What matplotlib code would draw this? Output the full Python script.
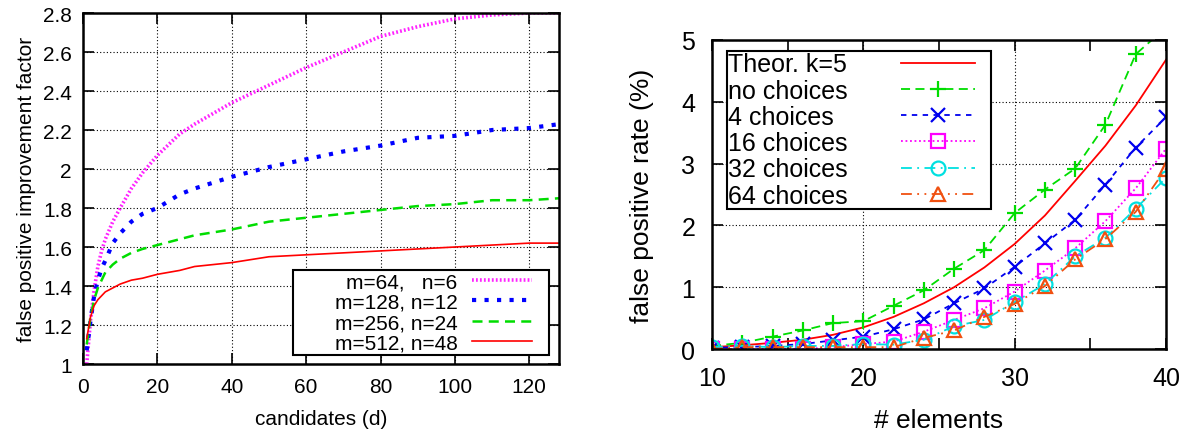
import numpy as np
import matplotlib
matplotlib.use("Agg")
import matplotlib.pyplot as plt
from matplotlib.patches import Rectangle

plt.rcParams['font.family'] = ['Liberation Sans', 'DejaVu Sans']

# left panel: improvement factor vs candidates
d_vals = [1, 2, 3, 4, 5, 6, 8, 10, 13, 16, 20, 26, 30, 40, 50, 60, 70, 80, 90, 100, 110, 120, 128]
m64 = [1.0, 1.22, 1.38, 1.5, 1.58, 1.64, 1.73, 1.8, 1.9, 1.98, 2.07, 2.18, 2.23, 2.34, 2.43, 2.52, 2.6, 2.68, 2.73, 2.77, 2.79, 2.8, 2.8]
m128 = [1.07, 1.22, 1.35, 1.43, 1.49, 1.53, 1.62, 1.67, 1.73, 1.77, 1.80, 1.87, 1.90, 1.96, 2.01, 2.05, 2.09, 2.12, 2.16, 2.17, 2.20, 2.21, 2.23]
m256 = [1.1, 1.24, 1.33, 1.39, 1.43, 1.47, 1.51, 1.54, 1.57, 1.59, 1.61, 1.64, 1.66, 1.69, 1.73, 1.75, 1.77, 1.79, 1.81, 1.82, 1.84, 1.84, 1.85]
m512 = [1.13, 1.24, 1.3, 1.33, 1.35, 1.37, 1.39, 1.41, 1.43, 1.44, 1.46, 1.48, 1.50, 1.52, 1.55, 1.56, 1.57, 1.58, 1.59, 1.60, 1.61, 1.62, 1.62]
left_labels = ["m=64,   n=6", "m=128, n=12", "m=256, n=24", "m=512, n=48"]

# right panel: false positive rate vs elements
elements = [10, 12, 14, 16, 18, 20, 22, 24, 26, 28, 30, 32, 34, 36, 38, 40]
theor = [0.03, 0.06, 0.1, 0.15, 0.23, 0.35, 0.52, 0.74, 1.0, 1.32, 1.7, 2.16, 2.72, 3.29, 3.94, 4.68]
no_choice = [0.05, 0.1, 0.2, 0.3, 0.42, 0.45, 0.7, 0.95, 1.3, 1.6, 2.2, 2.58, 2.92, 3.63, 4.77, 5.2]
ch4 = [0.02, 0.03, 0.05, 0.08, 0.14, 0.2, 0.32, 0.48, 0.74, 0.98, 1.33, 1.71, 2.09, 2.66, 3.26, 3.75]
ch16 = [0.0, 0.0, 0.0, 0.0, 0.03, 0.08, 0.12, 0.28, 0.47, 0.66, 0.93, 1.27, 1.63, 2.07, 2.6, 3.24]
ch32 = [0.03, 0.05, 0.03, 0.05, 0.05, 0.08, 0.07, 0.15, 0.37, 0.47, 0.76, 1.05, 1.5, 1.8, 2.27, 2.77]
ch64 = [0.0, 0.03, 0.03, 0.03, 0.03, 0.03, 0.03, 0.18, 0.3, 0.52, 0.73, 1.02, 1.45, 1.78, 2.22, 2.92]

DPI = 100
fig = plt.figure(figsize=(11.91, 4.31), dpi=DPI)

# ---- left ----
ax1 = fig.add_axes([0.0697, 0.1531, 0.3997, 0.8144])
ax1.plot(d_vals, m64, color='#ff22ff', lw=2.6, dashes=(0.5, 0.6), label=left_labels[0])
ax1.plot(d_vals, m128, color='#0000ff', lw=3, dashes=(1, 2), label=left_labels[1])
ax1.plot(d_vals, m256, color='#00dd00', lw=1.8, dashes=(4, 2.5), label=left_labels[2])
ax1.plot(d_vals, m512, color='#ff0000', lw=1.2, label=left_labels[3])
ax1.set_xlim(0, 128)
ax1.set_ylim(1, 2.8)
ax1.set_xticks(np.arange(0, 121, 20))
ax1.set_yticks(np.arange(1, 2.81, 0.2))
ax1.set_yticklabels(['1', '1.2', '1.4', '1.6', '1.8', '2', '2.2', '2.4', '2.6', '2.8'])
ax1.grid(True, color='black', linestyle=(0, (1, 2)), lw=0.8)
ax1.tick_params(direction='in', length=8, width=1.2, top=True, right=True, labelsize=15)
ax1.tick_params(axis='x', pad=9)
ax1.tick_params(axis='y', pad=8)
ax1.set_xlabel("candidates (d)", fontsize=15, labelpad=10)
ax1.set_ylabel("false positive improvement factor", fontsize=15, labelpad=5)
for s in ax1.spines.values():
    s.set_linewidth(1.8)
ax1.add_patch(Rectangle((0.441, 0.0256), 0.538, 0.268 - 0.0256, transform=ax1.transAxes,
                        facecolor='white', edgecolor='black', lw=1.5, zorder=4))
leg1 = ax1.legend(loc='center right', bbox_to_anchor=(0.943, 0.147), frameon=False,
                  markerfirst=False, fontsize=15, handlelength=2.9, handletextpad=0.67,
                  borderpad=0, labelspacing=0.06, borderaxespad=0)
leg1.set_zorder(5)

# ---- right ----
ax2 = fig.add_axes([0.5978, 0.1879, 0.3812, 0.717])
ax2.plot(elements, theor, color='#ff0000', lw=1.3, label="Theor. k=5")
ax2.plot(elements, no_choice, color='#00dd00', lw=1.3, dashes=(5, 3), marker='+', ms=12, mew=1.6,
         label="no choices")
ax2.plot(elements, ch4, color='#0000ee', lw=1.3, dashes=(3, 3), marker='x', ms=10, mew=1.6,
         label="4 choices")
ax2.plot(elements, ch16, color='#ff00ff', lw=1.3, dashes=(1, 1.5), marker='s', ms=10, mew=1.6,
         mfc='none', label="16 choices")
ax2.plot(elements, ch32, color='#00e0e0', lw=1.3, dashes=(6, 3, 1, 3), marker='o', ms=10, mew=1.6,
         mfc='none', label="32 choices")
ax2.plot(elements, ch64, color='#f05010', lw=1.3, dashes=(6, 3, 1, 3, 1, 3), marker='^', ms=10, mew=1.6,
         mfc='none', label="64 choices")
ax2.set_xlim(10, 40)
ax2.set_ylim(0, 5)
ax2.set_xticks([10, 20, 30, 40])
ax2.set_xticks([15, 25, 35], minor=True)
ax2.set_yticks([0, 1, 2, 3, 4, 5])
ax2.grid(True, which='major', color='black', linestyle=(0, (1, 2)), lw=0.8)
ax2.tick_params(which='both', direction='in', length=8, width=1.2, top=True, right=True,
                labelsize=18, pad=12)
ax2.set_xlabel("# elements", fontsize=19, labelpad=13)
ax2.set_ylabel("false positive rate (%)", fontsize=19, labelpad=20)
for s in ax2.spines.values():
    s.set_linewidth(1.8)
ax2.add_patch(Rectangle((0.033, 0.453), 0.582, 0.511, transform=ax2.transAxes,
                        facecolor='white', edgecolor='black', lw=1.5, zorder=4))
leg2 = ax2.legend(loc='center left', bbox_to_anchor=(0.035, 0.709), frameon=False,
                  markerfirst=False, fontsize=18, handlelength=2.96, handletextpad=1.0,
                  borderpad=0, labelspacing=0.09, borderaxespad=0)
leg2.set_zorder(5)

# left-align the right legend's labels: widen the gap so every row has the same width
fig.canvas.draw()
renderer = fig.canvas.get_renderer()
target_w = (0.579 - 0.035) * 0.3812 * 11.91 * DPI
handle_w = 2.96 * 18 * DPI / 72
rows = leg2._legend_handle_box.get_children()[0].get_children()
for row, txt in zip(rows, leg2.get_texts()):
    tw = txt.get_window_extent(renderer).width
    row.sep = (target_w - tw - handle_w) * 72 / DPI

fig.savefig("out.png", dpi=DPI)
